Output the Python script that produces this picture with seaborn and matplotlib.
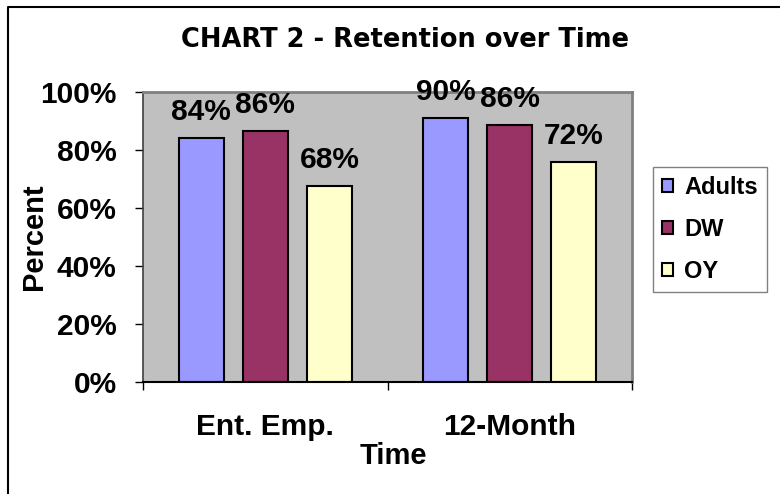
import matplotlib
matplotlib.use("Agg")
import matplotlib.pyplot as plt
import seaborn as sns
import pandas as pd
from matplotlib.lines import Line2D
from matplotlib.ticker import FixedLocator

# ---- data ----
categories = ["Ent. Emp.", "12-Month"]
groups = ["Adults", "DW", "OY"]
adults = [84, 91]
dw = [86.5, 88.5]
oy = [67.5, 76]
label_adults = ["84%", "90%"]
label_dw = ["86%", "86%"]
label_oy = ["68%", "72%"]
y_ticks = [0, 20, 40, 60, 80, 100]
colors = ["#9999FF", "#993366", "#FFFFCC"]

df = pd.DataFrame({
    "Time": categories * 3,
    "Group": [g for g in groups for _ in categories],
    "Percent": adults + dw + oy,
    "Label": label_adults + label_dw + label_oy,
})

sns.set_theme(style="white")
plt.rcParams["font.family"] = ["Liberation Sans", "DejaVu Sans"]
plt.rcParams["font.weight"] = "bold"
plt.rcParams["text.color"] = "black"
plt.rcParams["axes.labelcolor"] = "black"
plt.rcParams["xtick.color"] = "black"
plt.rcParams["ytick.color"] = "black"

W, H = 780, 494
fig = plt.figure(figsize=(W / 100, H / 100), dpi=100)
fig.patch.set_facecolor("white")
ax = fig.add_axes([143 / W, 1 - 382 / H, (632 - 143) / W, (382 - 92) / H])
ax.set_facecolor("#C0C0C0")

sns.barplot(data=df, x="Time", y="Percent", hue="Group", order=categories,
            hue_order=groups, palette=colors, width=0.787, gap=0.30,
            edgecolor="black", linewidth=1.5, saturation=1, ax=ax, errorbar=None)

# data labels
for cont, g in zip(ax.containers, groups):
    sub = df[df["Group"] == g].set_index("Time").loc[categories]
    for bar, lab in zip(cont, sub["Label"]):
        ax.annotate(lab, (bar.get_x() + bar.get_width() / 2, bar.get_height()),
                    xytext=(0, 13), textcoords="offset points", ha="center",
                    va="baseline", fontsize=21.5, fontweight="bold", color="black")

ax.set_ylim(0, 100)
ax.set_xlim(-0.5, 1.5)
ax.set_yticks(y_ticks)
ax.set_yticklabels([f"{t}%" for t in y_ticks])
ax.tick_params(axis="y", direction="out", length=6, width=1, color="black",
               pad=13, labelsize=21.5, left=True, labelcolor="black")
ax.tick_params(axis="x", which="major", length=0, pad=22, labelsize=21.5,
               labelcolor="black")
ax.xaxis.set_minor_locator(FixedLocator([-0.5, 0.5, 1.5]))
ax.tick_params(axis="x", which="minor", direction="out", length=6, width=1,
               color="black", bottom=True)
for t in ax.get_xticklabels() + ax.get_yticklabels():
    t.set_fontweight("bold")

ax.set_xlabel("Time", fontsize=21, fontweight="bold", color="black")
ax.xaxis.set_label_coords(0.511, -0.207)
ax.set_ylabel("Percent", fontsize=21, fontweight="bold", color="black")
ax.yaxis.set_label_coords(-0.194, 0.5)

for s in ["top", "right"]:
    ax.spines[s].set_color("#808080")
    ax.spines[s].set_linewidth(2)
ax.spines["left"].set_color("#404040")
ax.spines["left"].set_linewidth(1.2)
ax.spines["bottom"].set_color("black")
ax.spines["bottom"].set_linewidth(1.5)

# legend
handles, labels = ax.get_legend_handles_labels()
ax.get_legend().remove()
for h in handles:
    h.set_edgecolor("black")
    h.set_linewidth(1.5)
leg = fig.legend(handles, labels, loc="upper left",
                 bbox_to_anchor=(652.7 / W, 1 - 167 / H), frameon=True,
                 prop={"family": "Liberation Sans", "weight": "bold", "size": 17},
                 handlelength=0.5, handleheight=0.5, handletextpad=0.45,
                 labelspacing=0.8, borderpad=0.38, borderaxespad=0,
                 fancybox=False)
leg.get_frame().set_edgecolor("#606060")
leg.get_frame().set_linewidth(1)
leg.get_frame().set_facecolor("white")
for t in leg.get_texts():
    t.set_color("black")

# title
fig.text(405 / W, 1 - 40 / H, "CHART 2 - Retention over Time", ha="center",
         va="center", fontsize=18.5, fontweight="bold", family="DejaVu Sans",
         color="black")

# outer frame (left and top visible)
fig.add_artist(Line2D([8 / W, 8 / W, 1.0], [0.0, 1 - 7 / H, 1 - 7 / H],
                      transform=fig.transFigure, color="black", lw=1.5))

fig.savefig("out.png", dpi=100, facecolor="white")
